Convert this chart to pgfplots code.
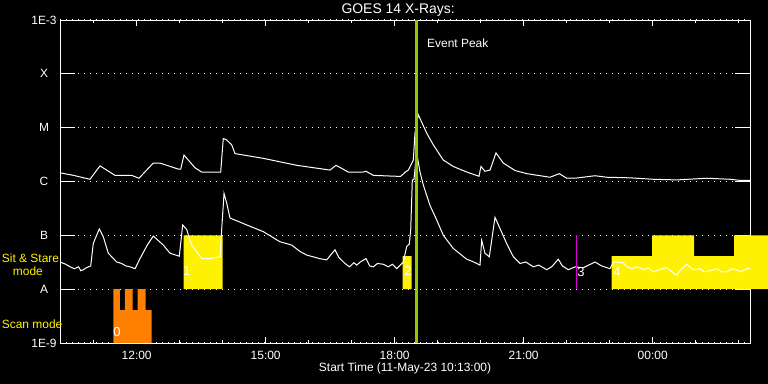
\documentclass[border=0pt]{standalone}
\usepackage{fontspec}
\setmainfont{Liberation Sans}
\usepackage{pgfplots}
\pgfplotsset{compat=1.18}
\definecolor{evgreen}{RGB}{150,200,0}
\definecolor{scanorange}{RGB}{255,128,0}
\definecolor{mag}{RGB}{220,0,220}
\begin{document}
\fontsize{12}{14}\selectfont
\begin{tikzpicture}
\fill[black] (0bp,0bp) rectangle (768bp,384bp);
\begin{axis}[
  at={(60bp,41bp)}, anchor=south west, scale only axis,
  width=690bp, height=323bp,
  xmin=10.2167, xmax=26.263,
  ymode=log, ymin=1e-9, ymax=1e-3,
  clip=false, no marks,
  axis line style={white, line width=1bp},
  tick align=inside,
  xtick={12,15,18,21,24},
  xticklabels={12:00,15:00,18:00,21:00,00:00},
  minor xtick={11,13,14,16,17,19,20,22,23,25,26},
  ytick={1e-9,1e-8,1e-7,1e-6,1e-5,1e-4,1e-3},
  yticklabels={1E-9,A,B,C,M,X,1E-3},
  yminorticks=false,
  xtick style={white, line width=1bp, /pgfplots/major tick length=6.5bp, /pgfplots/minor tick length=3.5bp},
  ytick style={white, line width=1bp, /pgfplots/major tick length=15bp},
  ymajorgrids=true,
  major grid style={white, line width=1.1bp, dash pattern=on 1.1bp off 4.9bp},
  xticklabel style={white, anchor=center, yshift=-12bp},
  yticklabel style={white, anchor=center, xshift=-16bp},
  xlabel={Start Time (11-May-23 10:13:00)},
  xlabel style={white, at={(axis description cs:0.5,0)}, anchor=center, yshift=-25.5bp},
  title={GOES 14 X-Rays:},
  every axis title shift=0pt,
  title style={white, font=\fontsize{14}{16}\selectfont, inner sep=0pt, at={(axis description cs:0.49,1)}, anchor=center, yshift=10bp},
]
% Scan mode
\addplot[draw=none, fill=scanorange] coordinates {
 (11.456,1e-9) (11.456,1e-8) (11.612,1e-8) (11.612,4.1e-9) (11.728,4.1e-9) (11.728,1e-8)
 (11.907,1e-8) (11.907,4.1e-9) (12.024,4.1e-9) (12.024,1e-8) (12.210,1e-8) (12.210,4.1e-9)
 (12.349,4.1e-9) (12.349,1e-9) (11.456,1e-9)};
% Sit & Stare mode
\addplot[draw=none, fill=yellow] coordinates {
 (13.089,1e-8) (13.089,1e-7) (13.996,1e-7) (13.996,1e-8) (13.089,1e-8)};
\addplot[draw=none, fill=yellow] coordinates {
 (18.187,1e-8) (18.187,4.1e-8) (18.391,4.1e-8) (18.391,1e-8) (18.187,1e-8)};
\addplot[draw=none, fill=yellow] coordinates {
 (23.047,1e-8) (23.047,4.1e-8) (23.984,4.1e-8) (23.984,1e-7) (24.961,1e-7) (24.961,4.1e-8)
 (25.891,4.1e-8) (25.891,1e-7) (26.682,1e-7) (26.682,1e-8) (23.047,1e-8)};
% Long channel (1-8 A)
\addplot[white, line width=1bp] table {
x y
10.217 1.45e-6
10.53 1.3e-6
10.914 1.1e-6
11.147 1.95e-6
11.496 1.3e-6
11.884 1.3e-6
12.054 1.15e-6
12.386 2.2e-6
12.542 2.2e-6
12.968 1.7e-6
13.024 1.7e-6
13.100 3.1e-6
13.356 1.8e-6
13.512 1.5e-6
13.954 1.5e-6
14.014 6.3e-6
14.093 5.9e-6
14.210 4.8e-6
14.286 3.3e-6
14.938 2.7e-6
15.721 2.0e-6
16.496 1.63e-6
16.635 2.0e-6
16.921 1.5e-6
17.270 1.5e-6
17.333 1.55e-6
17.503 1.3e-6
18.047 1.25e-6
18.14 1.25e-6
18.25 1.5e-6
18.316 1.63e-6
18.433 2.5e-6
18.472 7.9e-6
18.549 1.74e-5
18.745 7.9e-6
18.898 4.8e-6
19.131 2.5e-6
19.363 1.9e-6
19.675 1.5e-6
19.961 1.25e-6
20.007 1.9e-6
20.100 1.55e-6
20.217 1.63e-6
20.356 3.4e-6
20.526 2.2e-6
20.798 1.6e-6
21.070 1.4e-6
21.612 1.2e-6
21.828 1.4e-6
22.000 1.15e-6
22.193 1.15e-6
22.658 1.28e-6
22.931 1.2e-6
23.472 1.17e-6
24.014 1.1e-6
24.559 1.07e-6
25.256 1.15e-6
25.798 1.1e-6
26.031 1.05e-6
26.263 1.05e-6
};
% Short channel (0.5-4 A)
\addplot[white, line width=1bp] table {
x y
10.217 3.2e-8
10.35 2.9e-8
10.450 2.6e-8
10.55 2.4e-8
10.65 2.6e-8
10.70 2.2e-8
10.759 2.3e-8
10.83 2.5e-8
10.931 2.7e-8
10.991 7.1e-8
11.131 1.32e-7
11.224 9.4e-8
11.340 4.65e-8
11.535 3.2e-8
11.65 3.0e-8
11.75 2.7e-8
11.844 2.6e-8
11.961 2.4e-8
12.077 3.7e-8
12.247 6.6e-8
12.386 9.7e-8
12.619 6.6e-8
12.775 4.65e-8
12.991 4.1e-8
13.070 1.56e-7
13.163 1.28e-7
13.279 6.6e-8
13.512 3.7e-8
13.705 3.7e-8
13.937 4.0e-8
13.991 1.93e-7
14.031 6.0e-7
14.093 4.0e-7
14.170 2.1e-7
14.558 1.56e-7
14.945 1.17e-7
15.333 7.6e-8
15.605 6.6e-8
15.80 5.0e-8
15.954 4.3e-8
16.10 4.0e-8
16.25 3.7e-8
16.419 3.5e-8
16.612 5.4e-8
16.70 3.9e-8
16.844 3.0e-8
16.95 2.6e-8
17.05 3.1e-8
17.117 2.8e-8
17.20 3.2e-8
17.333 3.7e-8
17.42 2.7e-8
17.503 2.6e-8
17.60 3.0e-8
17.735 2.9e-8
17.85 2.6e-8
17.95 2.9e-8
18.047 2.4e-8
18.13 2.8e-8
18.200 3.2e-8
18.279 6.2e-8
18.340 6.9e-8
18.373 1.28e-7
18.410 1.06e-6
18.449 1.1e-6
18.489 2.3e-6
18.520 3.1e-6
18.589 1.5e-6
18.666 8.6e-7
18.821 3.6e-7
18.977 1.93e-7
19.131 1.0e-7
19.363 5.7e-8
19.675 3.6e-8
19.80 3.3e-8
19.984 2.8e-8
20.023 8.1e-8
20.100 4.65e-8
20.200 4.0e-8
20.333 2.16e-7
20.449 1.34e-7
20.605 7.0e-8
20.759 4.0e-8
20.915 3.0e-8
21.05 3.2e-8
21.224 2.6e-8
21.35 2.8e-8
21.535 2.3e-8
21.65 2.6e-8
21.805 3.6e-8
21.90 2.7e-8
22.038 2.3e-8
22.20 2.6e-8
22.386 2.5e-8
22.658 3.2e-8
22.814 2.7e-8
23.007 2.4e-8
23.084 3.2e-8
23.317 3.1e-8
23.40 2.6e-8
23.512 2.4e-8
23.65 2.6e-8
23.781 2.3e-8
23.90 2.5e-8
24.014 2.1e-8
24.15 2.3e-8
24.326 2.5e-8
24.45 2.1e-8
24.559 1.8e-8
24.65 2.3e-8
24.791 2.9e-8
24.945 2.3e-8
25.10 2.4e-8
25.20 2.1e-8
25.333 2.2e-8
25.50 2.4e-8
25.60 2.1e-8
25.721 2.1e-8
25.85 2.4e-8
25.954 2.3e-8
26.05 2.1e-8
26.186 2.4e-8
26.263 2.4e-8
};
% mode labels
\node[white, font=\fontsize{13}{15}\selectfont] at (axis cs:11.542,1.6e-9) {0};
\node[white, font=\fontsize{13}{15}\selectfont] at (axis cs:13.17,2.18e-8) {1};
\node[white, font=\fontsize{13}{15}\selectfont] at (axis cs:18.31,2.18e-8) {2};
\node[white, font=\fontsize{13}{15}\selectfont] at (axis cs:22.333,2.08e-8) {3};
\node[white, font=\fontsize{13}{15}\selectfont] at (axis cs:23.17,2.08e-8) {4};
% markers
\addplot[mag, line width=1.2bp] coordinates {(22.224,1e-8) (22.224,1e-7)};
\addplot[evgreen, line width=2.6bp] coordinates {(18.512,1e-9) (18.512,1e-3)};
\node[white, anchor=west, inner sep=0pt] at (axis cs:18.752,3.74e-4) {Event Peak};
\end{axis}
\node[yellow, anchor=west, inner sep=0pt] at (1.7bp,126bp) {Sit \& Stare};
\node[yellow, anchor=west, inner sep=0pt] at (12.7bp,113bp) {mode};
\node[yellow, anchor=west, inner sep=0pt] at (1.7bp,60bp) {Scan mode};
\pgfresetboundingbox
\path[use as bounding box] (0bp,0bp) rectangle (768bp,384bp);
\end{tikzpicture}
\end{document}
